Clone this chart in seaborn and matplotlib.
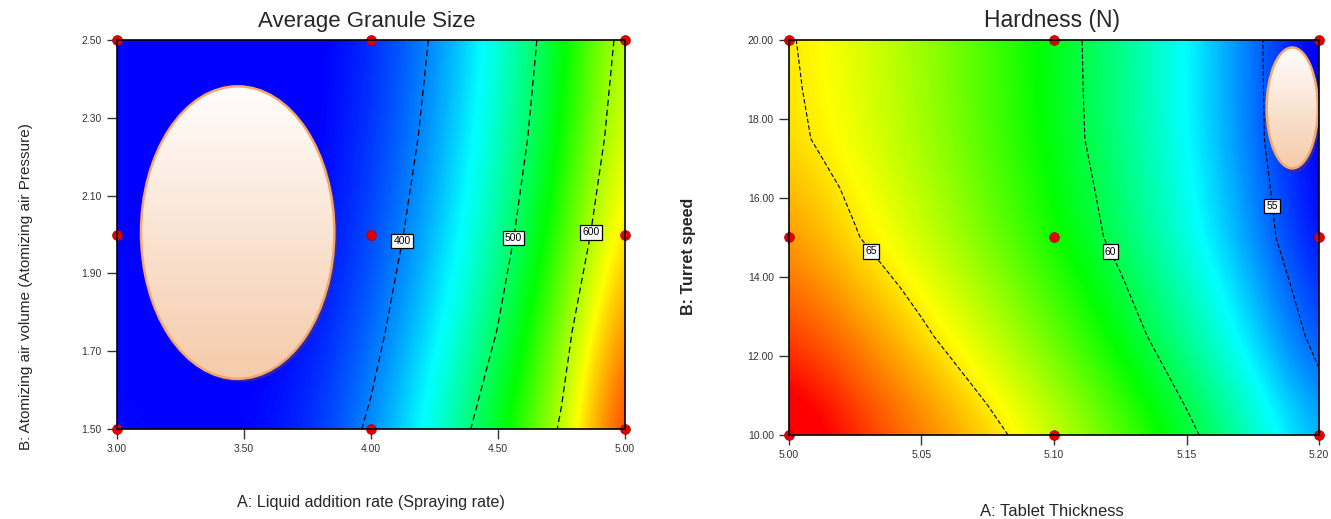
import numpy as np
import matplotlib
matplotlib.use("Agg")
import matplotlib.pyplot as plt
import seaborn as sns
from matplotlib.colors import LinearSegmentedColormap
from matplotlib.patches import Ellipse

# ---------- DATA ----------
# Average Granule Size: A = liquid addition rate, B = atomizing air volume
gs_a = [3.00, 3.25, 3.50, 3.75, 4.00, 4.25, 4.50, 4.75, 5.00]
gs_b = [1.50, 1.75, 2.00, 2.25, 2.50]
gs_z = [
    [360, 353, 355, 368.5, 405.3, 459.3, 530.6, 605.0, 715.0],  # B = 1.50
    [352, 347, 349, 359.1, 389.3, 436.8, 501.5, 583.5, 682.7],  # B = 1.75
    [346, 342, 343, 353.4, 378.4, 420.7, 480.3, 557.1, 651.1],  # B = 2.00
    [342, 339, 340, 350.2, 371.4, 409.9, 465.7, 538.7, 628.9],  # B = 2.25
    [340, 337, 338, 348.6, 367.4, 403.5, 456.8, 527.4, 615.3],  # B = 2.50
]
gs_levels = [400, 500, 600]
gs_label_pos = [(4.15, 1.98), (4.57, 1.99), (4.87, 2.005)]
gs_pts_a = [3.0, 3.0, 3.0, 4.0, 4.0, 4.0, 5.0, 5.0, 5.0]
gs_pts_b = [1.5, 2.0, 2.5, 1.5, 2.0, 2.5, 1.5, 2.0, 2.5]
gs_xticks = [3.00, 3.50, 4.00, 4.50, 5.00]
gs_yticks = [1.50, 1.70, 1.90, 2.10, 2.30, 2.50]

# Hardness: A = tablet thickness, B = turret speed
hd_a = [5.000, 5.025, 5.050, 5.075, 5.100, 5.125, 5.150, 5.175, 5.200]
hd_b = [10.0, 11.25, 12.5, 13.75, 15.0, 16.25, 17.5, 18.75, 20.0]
hd_z = [
    [69.5, 67.8, 66.6, 65.45, 63.98, 62.30, 60.40, 58.30, 55.99],    # B = 10
    [68.5, 67.2, 66.0, 64.70, 63.22, 61.54, 59.64, 57.55, 55.26],    # B = 11.25
    [67.6, 66.5, 65.24, 63.95, 62.45, 60.77, 58.88, 56.80, 54.53],   # B = 12.5
    [66.9, 65.8, 64.61, 63.32, 61.84, 60.18, 58.33, 56.29, 54.06],   # B = 13.75
    [66.3, 65.08, 63.98, 62.69, 61.23, 59.59, 57.77, 55.77, 53.58],  # B = 15
    [65.8, 64.76, 63.69, 62.43, 60.99, 59.37, 57.56, 55.58, 53.40],  # B = 16.25
    [65.28, 64.43, 63.39, 62.16, 60.75, 59.14, 57.35, 55.38, 53.21],  # B = 17.5
    [65.17, 64.33, 63.32, 62.11, 60.70, 59.11, 57.32, 55.35, 53.19],  # B = 18.75
    [65.09, 64.27, 63.27, 62.07, 60.67, 59.09, 57.31, 55.33, 53.17],  # B = 20
]
hd_levels = [55, 60, 65]
hd_label_pos = [(5.032, 14.7), (5.123, 14.7), (5.183, 15.8)]
hd_pts_a = [5.0, 5.0, 5.0, 5.1, 5.1, 5.1, 5.2, 5.2, 5.2]
hd_pts_b = [10, 15, 20, 10, 15, 20, 10, 15, 20]
hd_xticks = [5.00, 5.05, 5.10, 5.15, 5.20]
hd_yticks = [10.0, 12.0, 14.0, 16.0, 18.0, 20.0]

# ---------- STYLE ----------
sns.set_theme(style="white")
plt.rcParams["font.family"] = ["Liberation Sans", "DejaVu Sans"]

de_cmap = LinearSegmentedColormap.from_list(
    "design_expert", ["#0000ff", "#00ffff", "#00ff00", "#ffff00", "#ff0000"])
peach = LinearSegmentedColormap.from_list("peach", ["#f5cbaa", "#fffdfc"])


def draw_ellipse(ax, cx, cy, w, h, dx, dy):
    shadow = Ellipse((cx + dx, cy - dy), w, h, facecolor="#3a2a9a",
                     edgecolor="none", alpha=0.75, zorder=4)
    ax.add_patch(shadow)
    ell = Ellipse((cx, cy), w, h, facecolor="none", edgecolor="#f4a76a",
                  lw=1.8, zorder=6)
    ax.add_patch(ell)
    grad = np.linspace(0, 1, 256).reshape(-1, 1)
    im = ax.imshow(grad, extent=[cx - w / 2, cx + w / 2, cy - h / 2, cy + h / 2],
                   origin="lower", aspect="auto", cmap=peach, zorder=5)
    im.set_clip_path(ell)


def panel(ax, xs, ys, zs, vmin, vmax, levels, label_pos, pa, pb, xt, yt,
          lw, dashes):
    z = np.array(zs)
    hx = (xs[1] - xs[0]) / 2
    hy = (ys[1] - ys[0]) / 2
    ax.imshow(z, origin="lower", aspect="auto", cmap=de_cmap,
              vmin=vmin, vmax=vmax, interpolation="bicubic",
              extent=[xs[0] - hx, xs[-1] + hx, ys[0] - hy, ys[-1] + hy],
              zorder=1)
    cs = ax.contour(xs, ys, z, levels=levels, colors="black",
                    linewidths=lw, zorder=2)
    cs.set_linestyle((0, dashes))
    labels = ax.clabel(cs, fmt="%d", fontsize=7.5, inline=False,
                       manual=label_pos)
    for t in labels:
        t.set_rotation(0)
        t.set_bbox(dict(facecolor="white", edgecolor="black", pad=1.6,
                        linewidth=0.9))
        t.set_zorder(7)
    sns.scatterplot(x=pa, y=pb, ax=ax, color="#e00000", s=50,
                    edgecolor="#b00000", linewidth=0.5, zorder=8, legend=False)
    ax.collections[-1].set_clip_on(False)
    ax.set_xticks(xt)
    ax.set_xticklabels([f"{v:.2f}" for v in xt])
    ax.set_yticks(yt)
    ax.set_yticklabels([f"{v:.2f}" for v in yt])
    ax.tick_params(axis="both", direction="out", length=7, width=1.0,
                   color="#333333", labelsize=7.5, labelcolor="#333333",
                   pad=4, left=True, bottom=True)
    for s in ax.spines.values():
        s.set_color("black")
        s.set_linewidth(1.2)
        s.set_zorder(9)


fig = plt.figure(figsize=(13.31, 5.19), dpi=100)
ax1 = fig.add_axes([117 / 1331, 1 - 429 / 519, 508 / 1331, 389 / 519])
ax2 = fig.add_axes([789 / 1331, 1 - 435 / 519, 530 / 1331, 395 / 519])

panel(ax1, gs_a, gs_b, gs_z, 354, 722, gs_levels, gs_label_pos,
      gs_pts_a, gs_pts_b, gs_xticks, gs_yticks, 0.9, (5, 3))
draw_ellipse(ax1, 3.475, 2.005, 0.761, 0.752, 0.012, 0.008)
ax1.set_xlim(3.0, 5.0)
ax1.set_ylim(1.5, 2.5)

panel(ax2, hd_a, hd_b, hd_z, 53.6, 68.4, hd_levels, hd_label_pos,
      hd_pts_a, hd_pts_b, hd_xticks, hd_yticks, 0.8, (4, 2))
draw_ellipse(ax2, 5.1899, 18.28, 0.0193, 3.06, 0.0008, 0.12)
ax2.set_xlim(5.0, 5.2)
ax2.set_ylim(10, 20)

# titles and axis labels
fig.text(367 / 1331, 1 - 22 / 519, "Average Granule Size", ha="center",
         va="center", fontsize=16)
fig.text(1052 / 1331, 1 - 20 / 519, "Hardness (N)", ha="center",
         va="center", fontsize=16.5)
fig.text(371 / 1331, 1 - 503 / 519, "A: Liquid addition rate (Spraying rate)",
         ha="center", va="center", fontsize=11.6)
fig.text(1052 / 1331, 1 - 511 / 519, "A: Tablet Thickness",
         ha="center", va="center", fontsize=12)
fig.text(26 / 1331, 1 - 287 / 519,
         "B: Atomizing air volume (Atomizing air Pressure)",
         ha="center", va="center", rotation=90, fontsize=11)
fig.text(688 / 1331, 1 - 256 / 519, "B: Turret speed",
         ha="center", va="center", rotation=90, fontsize=11.5,
         fontweight="bold")

fig.savefig("out.png", dpi=100, facecolor="white")
